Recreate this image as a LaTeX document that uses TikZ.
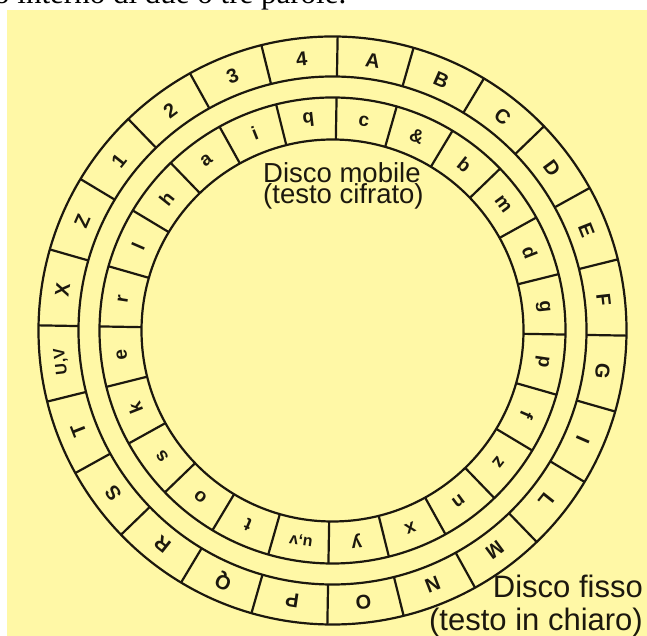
\documentclass[tikz,border=0pt]{standalone}
\usepackage{fontspec}
\setmainfont{Liberation Serif}
\setsansfont{Liberation Sans}
\definecolor{bgyellow}{RGB}{255,248,166}
\definecolor{ink}{RGB}{28,24,14}
\begin{document}
\begin{tikzpicture}[x=1pt,y=1pt,
  ringline/.style={draw=ink,line width=2.2pt},
  outerletter/.style={font=\sffamily\bfseries\fontsize{20}{20}\selectfont,text=ink,inner sep=0pt},
  innerletter/.style={font=\sffamily\bfseries\fontsize{19}{19}\selectfont,text=ink,inner sep=0pt},
  disclabel/.style={font=\sffamily,text=ink,inner sep=0pt}]
\useasboundingbox (0,0) rectangle (647,636);
\fill[white] (0,0) rectangle (647,636);
\node[anchor=base west,inner sep=0pt,font=\rmfamily\fontsize{31}{31}\selectfont] (toptext) at (-6,632.5) {o interno di due o tre parole.};
\fill[bgyellow] (7,0) rectangle (647,626);
\begin{scope}[shift={(332.5,305.5)}]
  \draw[ringline] (0,0) circle (294pt);
  \draw[ringline] (0,0) circle (254pt);
  \draw[ringline] (0,0) circle (233pt);
  \draw[ringline] (0,0) circle (191pt);
  \foreach \k in {0,...,23}{
    \draw[ringline] ({89-15*\k}:254pt) -- ({89-15*\k}:294pt);
    \draw[ringline] ({89-15*\k}:191pt) -- ({89-15*\k}:233pt);
  }
  \foreach \t [count=\i from 0] in {A,B,C,D,E,F,G,I,L,M,N,O,P,Q,R,S,T,{\fontsize{16}{16}\selectfont U,V},X,Z,1,2,3,4}{
    \node[outerletter,rotate={-8.5-15*\i}] (out\i) at ({81.5-15*\i}:273pt) {\t};
  }
  \foreach \t [count=\i from 0] in {c,\&,b,m,d,g,p,f,z,n,x,y,{\fontsize{16}{16}\selectfont u,v},t,o,s,k,e,r,l,h,a,i,q}{
    \node[innerletter,rotate={-8.5-15*\i}] (in\i) at ({81.5-15*\i}:212pt) {\t};
  }
\end{scope}
\node[disclabel,anchor=base west,font=\sffamily\fontsize{27.5}{27.5}\selectfont] (mob1) at (263,453) {Disco mobile};
\node[disclabel,anchor=base west,font=\sffamily\fontsize{27.5}{27.5}\selectfont] (mob2) at (263,432) {(testo cifrato)};
\node[disclabel,anchor=base east,font=\sffamily\fontsize{31}{31}\selectfont] (fis1) at (643,38) {Disco fisso};
\node[disclabel,anchor=base east,font=\sffamily\fontsize{31}{31}\selectfont] (fis2) at (643,5.5) {(testo in chiaro)};
\end{tikzpicture}
\end{document}
